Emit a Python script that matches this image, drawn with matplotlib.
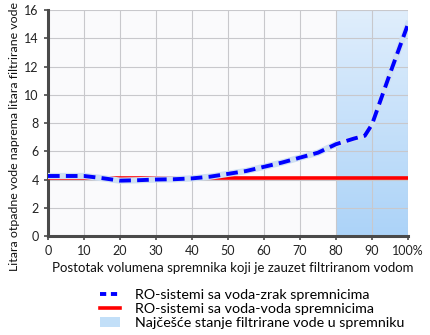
import numpy as np
import matplotlib.pyplot as plt
from matplotlib.colors import LinearSegmentedColormap
from matplotlib.lines import Line2D
from matplotlib.patches import Patch

plt.rcParams['font.family'] = ['Lato', 'DejaVu Sans']

# Fill level of the tank (%) and waste water per litre of filtered water
fill_pct = [0, 10, 15, 20, 25, 30, 35, 40, 45, 50, 55, 60, 65, 70, 75, 80, 85, 88, 90, 95, 100]
air_tank = [4.25, 4.25, 4.1, 3.92, 3.95, 4.0, 4.02, 4.08, 4.2, 4.4, 4.6, 4.9, 5.2, 5.55, 5.9, 6.5, 6.9, 7.1, 7.9, 11.5, 15.0]
water_tank = [4.1, 4.1]
water_x = [0, 100]
shade_from, shade_to = 80, 100

x_ticks = list(range(0, 101, 10))
x_labels = [str(v) for v in x_ticks[:-1]] + ['100%']
y_ticks = list(range(0, 17, 2))

legend_labels = ['RO-sistemi sa voda-zrak spremnicima',
                 'RO-sistemi sa voda-voda spremnicima',
                 'Najčešće stanje filtrirane vode u spremniku']

fig = plt.figure(figsize=(4.3, 3.35), dpi=100)
ax = fig.add_axes([0.1116, 0.2955, 0.8372, 0.6745])
ax.set_facecolor('#fafafc')

# gradient shading for the usual fill range
grad = np.linspace(0, 1, 256).reshape(-1, 1)
shade_cmap = LinearSegmentedColormap.from_list('shade', ['#acd3f8', '#e0eefc'])
ax.imshow(grad, extent=[shade_from, shade_to, 0, 16], aspect='auto',
          cmap=shade_cmap, origin='lower', zorder=0)

ax.set_xlim(0, 100)
ax.set_ylim(0, 16)
ax.set_xticks(x_ticks)
ax.set_xticklabels(x_labels)
ax.set_yticks(y_ticks)
ax.grid(True, color='#c8c8cc', linewidth=0.8)
for g in ax.get_xgridlines() + ax.get_ygridlines():
    g.set_zorder(1)

ax.plot(water_x, water_tank, color='#ff0000', linewidth=2.6, zorder=3)
ax.plot(fill_pct, air_tank, color='#cfe0f2', linewidth=4.5, zorder=4)
ax.plot(fill_pct, air_tank, color='#0000ff', linewidth=2.8,
        dashes=(3, 1.6), zorder=5)

for side in ['top', 'right']:
    ax.spines[side].set_visible(False)
for side in ['left', 'bottom']:
    ax.spines[side].set_color('#4a4a4a')
    ax.spines[side].set_linewidth(2.2)
ax.tick_params(axis='both', colors='#4a4a4a', labelcolor='#222222',
               labelsize=9, length=3, width=1.2)
ax.set_xlabel('Postotak volumena spremnika koji je zauzet filtriranom vodom',
              fontsize=9.5, color='#111111')
ax.set_ylabel('Litara otpadne vode naprema litara filtrirane vode',
              fontsize=8.9, color='#111111')
ax.xaxis.set_label_coords(0.514, -0.115)
ax.yaxis.set_label_coords(-0.077, 0.44)

handles = [Line2D([], [], color='#0000ff', linewidth=2.8, dashes=(1.6, 1.2)),
           Line2D([], [], color='#ff0000', linewidth=2.6),
           Patch(facecolor='#c2dff8', edgecolor='none')]
fig.legend(handles, legend_labels, loc='upper left',
           bbox_to_anchor=(0.233, 0.137), bbox_transform=fig.transFigure,
           frameon=False, fontsize=10.3, handlelength=1.4, handletextpad=1.0,
           labelspacing=0.15, borderpad=0, borderaxespad=0)

fig.savefig('out.png', dpi=100, facecolor='white')
